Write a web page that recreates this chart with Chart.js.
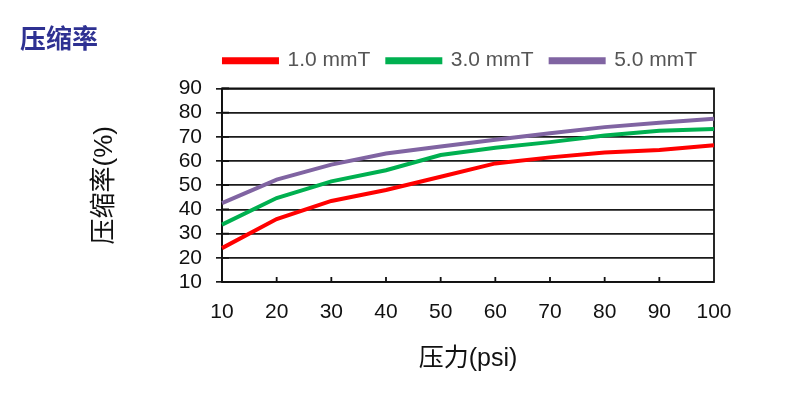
<!DOCTYPE html>
<html>
<head>
<meta charset="utf-8">
<script src="https://cdn.jsdelivr.net/npm/chart.js@4/dist/chart.umd.min.js"></script>
<style>
  html, body { margin: 0; background: #fff; }
</style>
</head>
<body>
<canvas id="chart" width="800" height="394"></canvas>
<script>
const pressure = ["10","20","30","40","50","60","70","80","90","100"];
const rate1 = [24.0, 36.0, 43.5, 48.0, 53.5, 59.0, 61.5, 63.5, 64.5, 66.5];
const rate3 = [33.7, 44.7, 51.6, 56.2, 62.5, 65.5, 67.8, 70.5, 72.5, 73.2];
const rate5 = [42.6, 52.3, 58.5, 63.1, 66.0, 68.8, 71.5, 74.0, 75.8, 77.5];
const seriesNames = ["1.0 mmT", "3.0 mmT", "5.0 mmT"];

const FONT = "'Liberation Sans', Arial, 'Noto Sans CJK SC', sans-serif";

// border box + inner tick marks
const frame = {
  id: "frame",
  beforeDatasetsDraw(chart){
    const {ctx, chartArea: a, scales} = chart;
    ctx.save();
    ctx.strokeStyle = "#111";
    ctx.lineWidth = 1.8;
    ctx.strokeRect(a.left, a.top, a.right - a.left, a.bottom - a.top);
    ctx.beginPath();
    scales.y.ticks.forEach(t => {
      const y = scales.y.getPixelForValue(t.value);
      ctx.moveTo(a.left, y);
      ctx.lineTo(a.left + 7, y);
    });
    pressure.forEach((p, i) => {
      if(i === 0 || i === pressure.length - 1) return;
      const x = scales.x.getPixelForValue(i);
      ctx.moveTo(x, a.bottom);
      ctx.lineTo(x, a.bottom - 5);
    });
    ctx.stroke();
    ctx.restore();
  }
};

function line(label, data, color){
  return {
    label,
    data,
    borderColor: color,
    backgroundColor: color,
    borderWidth: 4,
    pointRadius: 0,
    tension: 0
  };
}

new Chart(document.getElementById("chart"), {
  type: "line",
  data: {
    labels: pressure,
    datasets: [
      line(seriesNames[0], rate1, "#ff0000"),
      line(seriesNames[1], rate3, "#00b050"),
      line(seriesNames[2], rate5, "#8064a2")
    ]
  },
  options: {
    responsive: false,
    animation: false,
    layout: { padding: { left: 20, right: 86, top: 0, bottom: 10 } },
    plugins: {
      title: {
        display: true,
        text: "压缩率",
        align: "start",
        color: "#2e3192",
        font: { family: "'Noto Sans CJK SC', sans-serif", size: 26, weight: "bold" },
        padding: { top: 23, bottom: -21 }
      },
      // empty spacer between legend and plot
      subtitle: {
        display: true,
        text: "",
        weight: 500,
        font: { size: 1 },
        padding: { top: 6, bottom: 0 }
      },
      legend: {
        align: "end",
        labels: {
          boxWidth: 53,
          boxHeight: 3,
          color: "#555",
          padding: 17,
          font: { family: FONT, size: 21 }
        }
      },
      tooltip: { enabled: false }
    },
    scales: {
      x: {
        offset: false,
        grid: { drawOnChartArea: false, drawTicks: false },
        border: { display: false },
        ticks: { color: "#111", padding: 18, font: { family: FONT, size: 21 }, maxRotation: 0 },
        title: {
          display: true,
          text: "压力(psi)",
          color: "#111",
          font: { family: FONT, size: 25 },
          padding: { top: 0, bottom: 10 }
        },
        afterFit(s){ s.height = 102; }
      },
      y: {
        min: 10,
        max: 90,
        ticks: { stepSize: 10, autoSkip: false, color: "#111", padding: 14, font: { family: FONT, size: 21 } },
        grid: { color: "#1a1a1a", lineWidth: 1.7, tickLength: 6 },
        border: { color: "#111", width: 1.8 },
        title: {
          display: true,
          text: "压缩率(%)",
          color: "#111",
          font: { family: FONT, size: 26 },
          padding: { top: 69, bottom: 0 }
        },
        afterFit(s){ s.width = 202; }
      }
    }
  },
  plugins: [frame]
});
</script>
</body>
</html>
